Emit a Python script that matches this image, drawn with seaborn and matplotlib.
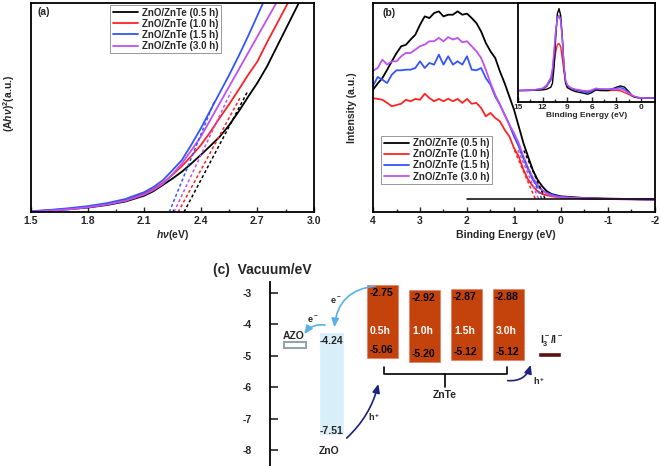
import matplotlib
matplotlib.use('Agg')
import matplotlib.pyplot as plt
import pandas as pd
import seaborn as sns

sns.set_style('ticks')
plt.rcParams['font.family'] = ['Liberation Sans', 'DejaVu Sans']
plt.rcParams['font.weight'] = 'bold'
plt.rcParams['axes.labelweight'] = 'bold'
plt.rcParams['mathtext.fontset'] = 'custom'
plt.rcParams['mathtext.rm'] = 'Liberation Sans:bold'
plt.rcParams['mathtext.it'] = 'Liberation Sans:italic:bold'
plt.rcParams['mathtext.bf'] = 'Liberation Sans:bold'
plt.rcParams['axes.linewidth'] = 1.3

samples = ['ZnO/ZnTe (0.5 h)', 'ZnO/ZnTe (1.0 h)', 'ZnO/ZnTe (1.5 h)', 'ZnO/ZnTe (3.0 h)']
colors = ['black', '#ff2222', '#3355ff', '#c050f0']

# (a) Tauc plot, (Ahv)^2 in fraction of the axis height
tauc_e = [1.5, 1.6, 1.7, 1.8, 1.9, 2.0, 2.1, 2.15, 2.2, 2.25, 2.3, 2.35, 2.4, 2.45,
          2.5, 2.55, 2.6, 2.65, 2.7, 2.75, 2.8, 2.85, 2.9, 2.95, 3.0]
tauc_05 = [0.003, 0.007, 0.013, 0.021, 0.033, 0.050, 0.078, 0.100, 0.130, 0.160, 0.193, 0.232, 0.273, 0.316,
           0.360, 0.415, 0.480, 0.550, 0.618, 0.695, 0.785, 0.875, 0.965, 1.055, 1.14]
tauc_10 = [0.003, 0.008, 0.015, 0.025, 0.038, 0.057, 0.088, 0.110, 0.140, 0.178, 0.220, 0.268, 0.320, 0.382,
           0.450, 0.515, 0.584, 0.655, 0.720, 0.810, 0.895, 0.980, 1.07, 1.16, 1.25]
tauc_15 = [0.004, 0.010, 0.018, 0.028, 0.042, 0.062, 0.095, 0.120, 0.153, 0.200, 0.249, 0.322, 0.400, 0.485,
           0.570, 0.655, 0.745, 0.840, 0.940, 1.04, 1.14, 1.24, 1.34, 1.44, 1.54]
tauc_30 = [0.002, 0.006, 0.013, 0.022, 0.035, 0.053, 0.083, 0.105, 0.135, 0.180, 0.233, 0.295, 0.360, 0.440,
           0.520, 0.600, 0.680, 0.760, 0.840, 0.920, 1.00, 1.08, 1.16, 1.24, 1.32]
# linear fits: intercept, upper end (x, y)
tauc_gap = [2.311, 2.280, 2.233, 2.258]
tauc_fit_x = [2.65, 2.61, 2.475, 2.56]
tauc_fit_y = [0.58, 0.55, 0.536, 0.576]

# (b) valence band spectra
vb_e = [4.0, 3.9, 3.8, 3.7, 3.6, 3.5, 3.4, 3.3, 3.2, 3.1, 3.0, 2.9, 2.8, 2.7, 2.6, 2.5, 2.4, 2.3, 2.2, 2.1,
        2.0, 1.9, 1.8, 1.7, 1.6, 1.5, 1.4, 1.3, 1.2, 1.1, 1.0, 0.9, 0.8, 0.7, 0.6, 0.5, 0.4, 0.3, 0.2, 0.1,
        0.0, -0.5, -1.0, -1.5, -2.0]
vb_05 = [0.585, 0.615, 0.641, 0.680, 0.721, 0.760, 0.793, 0.800, 0.825, 0.848, 0.896, 0.936, 0.928, 0.952,
         0.960, 0.936, 0.944, 0.944, 0.960, 0.944, 0.949, 0.928, 0.904, 0.864, 0.809, 0.769, 0.737, 0.673,
         0.617, 0.553, 0.490, 0.410, 0.330, 0.265, 0.201, 0.155, 0.123, 0.099, 0.086, 0.080, 0.075, 0.067,
         0.064, 0.062, 0.059]
vb_10 = [0.545, 0.541, 0.537, 0.522, 0.506, 0.512, 0.518, 0.537, 0.530, 0.541, 0.537, 0.566, 0.545, 0.530,
         0.541, 0.530, 0.542, 0.530, 0.541, 0.522, 0.541, 0.518, 0.522, 0.498, 0.458, 0.474, 0.450, 0.434,
         0.394, 0.362, 0.306, 0.266, 0.203, 0.155, 0.124, 0.099, 0.086, 0.080, 0.075, 0.072, 0.069, 0.065,
         0.062, 0.061, 0.059]
vb_15 = [0.604, 0.646, 0.633, 0.617, 0.657, 0.678, 0.678, 0.681, 0.681, 0.689, 0.721, 0.689, 0.713, 0.705,
         0.753, 0.705, 0.745, 0.705, 0.721, 0.705, 0.745, 0.681, 0.678, 0.689, 0.641, 0.609, 0.553, 0.514,
         0.466, 0.418, 0.362, 0.314, 0.258, 0.203, 0.155, 0.123, 0.104, 0.091, 0.083, 0.077, 0.072, 0.065,
         0.062, 0.061, 0.059]
vb_30 = [0.676, 0.689, 0.729, 0.705, 0.721, 0.721, 0.745, 0.761, 0.761, 0.777, 0.793, 0.801, 0.817, 0.817,
         0.833, 0.817, 0.837, 0.825, 0.833, 0.812, 0.817, 0.793, 0.769, 0.737, 0.681, 0.617, 0.561, 0.514,
         0.466, 0.418, 0.378, 0.330, 0.266, 0.211, 0.163, 0.131, 0.104, 0.088, 0.078, 0.073, 0.070, 0.065,
         0.062, 0.061, 0.059]
vb_edge = [0.34, 0.55, 0.41, 0.48]
vb_fit_x = [0.80, 1.00, 0.86, 0.92]
vb_fit_y = [0.30, 0.30, 0.29, 0.30]
vb_base = 0.064

# inset: full valence band
ins_e = [15, 14, 13, 12, 11.5, 11, 10.8, 10.6, 10.4, 10.2, 10.0, 9.8, 9.6, 9.4, 9.2, 9.0, 8.5, 8, 7,
         6.5, 6, 5.5, 5, 4, 3, 2.5, 2, 1.5, 1, 0.5, 0, -1.7]
ins_05 = [0.111, 0.111, 0.114, 0.118, 0.125, 0.145, 0.185, 0.354, 0.657, 0.892, 0.943, 0.875, 0.657, 0.354,
          0.185, 0.141, 0.118, 0.101, 0.084, 0.074, 0.091, 0.118, 0.111, 0.111, 0.145, 0.158, 0.145, 0.101,
          0.051, 0.040, 0.037, 0.034]
ins_10 = [0.111, 0.114, 0.118, 0.125, 0.152, 0.219, 0.279, 0.387, 0.505, 0.579, 0.589, 0.556, 0.438, 0.303,
          0.202, 0.158, 0.131, 0.118, 0.104, 0.098, 0.104, 0.118, 0.114, 0.111, 0.114, 0.108, 0.091, 0.071,
          0.051, 0.040, 0.037, 0.034]
ins_15 = [0.111, 0.114, 0.118, 0.131, 0.158, 0.219, 0.303, 0.488, 0.707, 0.842, 0.865, 0.825, 0.640, 0.370,
          0.219, 0.168, 0.135, 0.118, 0.098, 0.091, 0.104, 0.128, 0.125, 0.125, 0.135, 0.141, 0.125, 0.091,
          0.057, 0.044, 0.037, 0.034]
ins_30 = [0.111, 0.114, 0.118, 0.135, 0.168, 0.246, 0.337, 0.522, 0.724, 0.852, 0.875, 0.832, 0.630, 0.354,
          0.212, 0.165, 0.135, 0.125, 0.111, 0.108, 0.118, 0.135, 0.128, 0.125, 0.125, 0.125, 0.111, 0.084,
          0.057, 0.044, 0.037, 0.034]

# (c) band alignment, eV vs vacuum
znte_names = ['0.5h', '1.0h', '1.5h', '3.0h']
znte_cb = [-2.75, -2.92, -2.87, -2.88]
znte_vb = [-5.06, -5.20, -5.12, -5.12]
zno_cb, zno_vb = -4.24, -7.51
azo_top, azo_bottom = -4.55, -4.75
redox_top, redox_bottom = -4.88, -5.04
level_ticks = [-3, -4, -5, -6, -7, -8]

fig = plt.figure(figsize=(6.61, 4.66), dpi=100)
W, H = 661, 466


def px_axes(left, top, right, bottom):
    return fig.add_axes([left / W, 1 - bottom / H, (right - left) / W, (bottom - top) / H])


def style_frame(ax):
    for s in ax.spines.values():
        s.set_visible(True)
        s.set_linewidth(1.3)
        s.set_color('black')
    ax.tick_params(axis='x', which='both', direction='in', top=False, bottom=True,
                   width=1.0, labelsize=7.5, pad=3)
    ax.tick_params(axis='x', which='major', length=3.5)
    ax.tick_params(axis='x', which='minor', length=2.5)
    ax.set_yticks([])


# ---------------- (a)
ax_a = px_axes(31, 3, 314, 212)
tauc_series = [tauc_05, tauc_10, tauc_15, tauc_30]
for i in range(4):
    sns.lineplot(x=tauc_e, y=tauc_series[i], ax=ax_a, color=colors[i], label=samples[i], lw=1.3)
for i in range(4):
    ax_a.plot([tauc_gap[i], tauc_fit_x[i]], [0, tauc_fit_y[i]], color=colors[i], lw=1.1, ls=(0, (2, 1.6)))
ax_a.set_xlim(1.5, 3.0)
ax_a.set_ylim(0, 1)
ax_a.set_xticks([1.5, 1.8, 2.1, 2.4, 2.7, 3.0])
ax_a.set_xticks([1.65, 1.95, 2.25, 2.55, 2.85], minor=True)
style_frame(ax_a)
ax_a.set_xlabel(r'$h\nu$(eV)', fontsize=7.5, labelpad=1)
ax_a.set_ylabel(r'(A$h\nu$)$^2$(a.u.)', fontsize=7.5)
ax_a.yaxis.set_label_coords(-0.05, 0.52)
ax_a.text(0.022, 0.955, '(a)', transform=ax_a.transAxes, fontsize=7.5, va='center')
ax_a.legend(loc='upper left', bbox_to_anchor=(0.28, 0.99), fontsize=7, frameon=True, fancybox=False,
            edgecolor='#888888', framealpha=1, handlelength=2.6, handletextpad=0.4,
            labelspacing=0.12, borderpad=0.25, borderaxespad=0)
ax_a.get_legend().get_frame().set_linewidth(0.6)

# ---------------- (b)
ax_b = px_axes(373, 3, 655, 212)
vb_series = [vb_05, vb_10, vb_15, vb_30]
for i in range(4):
    sns.lineplot(x=vb_e, y=vb_series[i], ax=ax_b, color=colors[i], label=samples[i], lw=1.3)
for i in range(4):
    ax_b.plot([vb_edge[i], vb_fit_x[i]], [vb_base, vb_fit_y[i]], color=colors[i], lw=1.1, ls=(0, (2, 1.6)))
ax_b.plot([2, -2], [vb_base, vb_base], color='black', lw=1.1)
ax_b.set_xlim(4, -2)
ax_b.set_ylim(0, 1)
ax_b.set_xticks([4, 3, 2, 1, 0, -1, -2])
ax_b.set_xticks([3.5, 2.5, 1.5, 0.5, -0.5, -1.5], minor=True)
ax_b.set_xticklabels(['4', '3', '2', '1', '0', '-1', '-2'])
style_frame(ax_b)
ax_b.set_xlabel('Binding Energy (eV)', fontsize=7.5, labelpad=2)
ax_b.xaxis.set_label_coords(0.47, -0.085)
ax_b.set_ylabel('Intensity (a.u.)', fontsize=7.5)
ax_b.yaxis.set_label_coords(-0.055, 0.5)
ax_b.text(0.035, 0.95, '(b)', transform=ax_b.transAxes, fontsize=7.5, va='center')
ax_b.legend(loc='upper left', bbox_to_anchor=(0.03, 0.365), fontsize=7, frameon=True, fancybox=False,
            edgecolor='#888888', framealpha=1, handlelength=2.6, handletextpad=0.4,
            labelspacing=0.12, borderpad=0.25, borderaxespad=0)
ax_b.get_legend().get_frame().set_linewidth(0.6)

# inset
ax_i = px_axes(518, 3, 655, 101.5)
ins_series = [ins_05, ins_10, ins_15, ins_30]
for i in [1, 0, 2, 3]:
    sns.lineplot(x=ins_e, y=ins_series[i], ax=ax_i, color=colors[i], lw=1.0, legend=False)
ax_i.set_xlim(15, -1.7)
ax_i.set_ylim(0, 1)
ax_i.set_xticks([15, 12, 9, 6, 3, 0])
ax_i.set_xticks([13.5, 10.5, 7.5, 4.5, 1.5], minor=True)
style_frame(ax_i)
ax_i.tick_params(axis='x', labelsize=6, pad=1.5)
ax_i.set_xlabel('Binding Energy (eV)', fontsize=6, labelpad=1)

# ---------------- (c)
ax_c = px_axes(270, 282, 600, 466)
ax_c.set_xlim(270, 600)
ax_c.set_ylim(-8.51, -2.65)
for s in ['top', 'right', 'bottom']:
    ax_c.spines[s].set_visible(False)
ax_c.spines['left'].set_linewidth(1.3)
ax_c.spines['left'].set_color('black')
ax_c.set_xticks([])
ax_c.set_yticks(level_ticks)
ax_c.set_yticklabels([str(v) for v in level_ticks], fontsize=7.5)
ax_c.tick_params(axis='y', direction='in', length=6, width=1.2, pad=13)

znte_x = [382.5 + 42 * i for i in range(4)]
ax_c.bar(znte_x, [c - v for c, v in zip(znte_cb, znte_vb)], bottom=znte_vb, width=31,
         color='#c4420c', edgecolor='#e8826a', lw=0.6)
ax_c.bar([331.5], [zno_cb - zno_vb], bottom=[zno_vb], width=25, color='#d8eef8')
ax_c.bar([294.5], [azo_top - azo_bottom], bottom=[azo_bottom], width=22, facecolor='white',
         edgecolor='#8fa3ab', lw=1.4)
ax_c.bar([549.5], [redox_top - redox_bottom], bottom=[redox_bottom], width=23, color='#5c1010')

tk = dict(fontsize=7.5, fontweight='bold', ha='center', va='center')
for x, c, v, n in zip(znte_x, znte_cb, znte_vb, znte_names):
    ax_c.text(x - 1.5, c - 0.25, f'{c:.2f}', color='black', **tk)
    ax_c.text(x - 1.5, v + 0.25, f'{v:.2f}', color='black', **tk)
    ax_c.text(x - 2, -4.22, n, color='white', **tk)
ax_c.text(331.5, zno_cb - 0.29, f'{zno_cb:.2f}', **tk)
ax_c.text(331.5, zno_vb + 0.13, f'{zno_vb:.2f}', **tk)
ax_c.text(329.5, -8.02, 'ZnO', **tk)
ax_c.text(293.5, -4.37, 'AZO', **tk)
ax_c.text(551.5, -4.5, r'I$_3^-$/I$^-$', **tk)
ax_c.text(445, -6.25, 'ZnTe', **tk)

# bracket under the ZnTe boxes
ax_c.plot([384, 384, 506.7, 506.7], [-5.36, -5.59, -5.59, -5.36], color='black', lw=1.2)
ax_c.plot([445, 445], [-5.59, -5.98], color='black', lw=1.2)

light, navy = '#5ab0e6', '#1a237e'
head = '-|>,head_length=0.5,head_width=0.22'
ax_c.annotate('', xy=(334.3, -4.09), xytext=(375, -2.78),
              arrowprops=dict(arrowstyle=head, color=light, lw=1.2,
                              connectionstyle='arc3,rad=0.4', shrinkA=0, shrinkB=0))
ax_c.annotate('', xy=(304.3, -4.31), xytext=(325, -4.02),
              arrowprops=dict(arrowstyle=head, color=light, lw=1.2,
                              connectionstyle='arc3,rad=0.3', shrinkA=0, shrinkB=0))
ax_c.annotate('', xy=(378.3, -5.9), xytext=(346.7, -7.62),
              arrowprops=dict(arrowstyle=head, color=navy, lw=1.2,
                              connectionstyle='arc3,rad=0.15', shrinkA=0, shrinkB=0))
ax_c.annotate('', xy=(530.7, -5.29), xytext=(507.7, -5.79),
              arrowprops=dict(arrowstyle=head, color=navy, lw=1.2,
                              connectionstyle='arc3,rad=0.4', shrinkA=0, shrinkB=0))
sk = dict(fontsize=6.5, ha='center', va='center')
ax_c.text(336, -3.25, r'e$^-$', **sk)
ax_c.text(313, -3.86, r'e$^-$', **sk)
ax_c.text(374, -6.94, r'h$^+$', **sk)
ax_c.text(539, -5.82, r'h$^+$', **sk)

fig.text(213 / W, 1 - 270 / H, '(c)  Vacuum/eV', fontsize=10, fontweight='bold',
         ha='left', va='center')

fig.savefig('out.png', dpi=100)
